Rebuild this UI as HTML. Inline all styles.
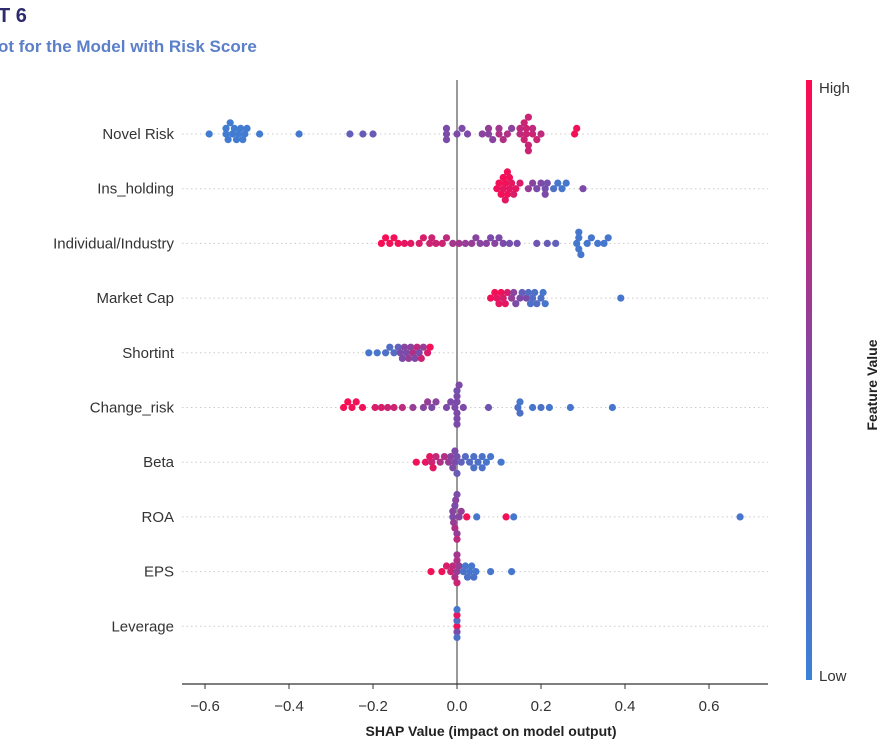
<!DOCTYPE html>
<html><head><meta charset="utf-8"><style>
body{margin:0;background:#fff;width:885px;height:741px;overflow:hidden;font-family:"Liberation Sans",sans-serif}
</style></head><body>
<svg id="chart" width="885" height="741" xmlns="http://www.w3.org/2000/svg" style="position:absolute;left:0;top:0">
<defs><linearGradient id="cb" x1="0" y1="1" x2="0" y2="0">
<stop offset="0" stop-color="#3a82d6"/><stop offset="0.5" stop-color="#7c4aa8"/><stop offset="1" stop-color="#ff0a50"/></linearGradient></defs>
<text x="-2" y="22" font-size="20" font-weight="bold" fill="#2e2a6e">T 6</text>
<text x="-2" y="52" font-size="17" font-weight="bold" fill="#5b7fc8">ot for the Model with Risk Score</text>
<g id="grid"></g><g id="labels"></g>
<line x1="457" y1="80" x2="457" y2="684" stroke="#999" stroke-width="2"/>
<g id="dots"></g>
<line x1="182" y1="684" x2="768" y2="684" stroke="#333" stroke-width="1.2"/>
<g id="ticks"></g>
<text x="491" y="736" font-size="14" font-weight="bold" fill="#222" text-anchor="middle">SHAP Value (impact on model output)</text>
<rect x="806" y="80" width="6" height="600" fill="url(#cb)"/>
<text x="819" y="93" font-size="15" fill="#333">High</text>
<text x="819" y="681" font-size="15" fill="#333">Low</text>
<text transform="translate(877,385) rotate(-90)" font-size="14" font-weight="bold" fill="#222" text-anchor="middle">Feature Value</text>
</svg>
<script>
const features=["Novel Risk","Ins_holding","Individual/Industry","Market Cap","Shortint","Change_risk","Beta","ROA","EPS","Leverage"];
const xTicks=[-0.6,-0.4,-0.2,0.0,0.2,0.4,0.6];
const novelRisk=[[-0.59,0.05],[-0.55,0.05],[-0.55,0.05],[-0.545,0.05],[-0.54,0.05],[-0.535,0.05],[-0.53,0.05],[-0.525,0.05],[-0.52,0.05],[-0.515,0.05],[-0.51,0.05],[-0.505,0.05],[-0.5,0.05],[-0.47,0.05],[-0.376,0.08],[-0.255,0.3],[-0.224,0.35],[-0.2,0.35],[-0.025,0.5],[-0.025,0.5],[-0.025,0.5],[0.0,0.5],[0.012,0.5],[0.025,0.5],[0.06,0.55],[0.075,0.55],[0.075,0.6],[0.085,0.55],[0.1,0.7],[0.1,0.65],[0.11,0.7],[0.12,0.7],[0.13,0.55],[0.15,0.75],[0.15,0.75],[0.16,0.8],[0.16,0.8],[0.165,0.8],[0.165,0.8],[0.17,0.8],[0.17,0.8],[0.17,0.8],[0.18,0.8],[0.18,0.75],[0.19,0.8],[0.2,0.75],[0.28,0.95],[0.285,0.95]];
const insHolding=[[0.095,0.95],[0.1,0.95],[0.105,0.95],[0.11,0.9],[0.11,0.95],[0.115,0.95],[0.115,0.9],[0.12,0.95],[0.12,0.95],[0.125,0.9],[0.125,0.95],[0.13,0.9],[0.135,0.85],[0.14,0.9],[0.15,0.85],[0.17,0.6],[0.18,0.55],[0.19,0.5],[0.2,0.5],[0.21,0.45],[0.21,0.5],[0.215,0.45],[0.23,0.15],[0.24,0.1],[0.25,0.1],[0.26,0.1],[0.3,0.5]];
const individualIndustry=[[-0.18,0.97],[-0.17,0.97],[-0.16,0.95],[-0.15,0.95],[-0.14,0.95],[-0.125,0.9],[-0.11,0.9],[-0.09,0.85],[-0.08,0.85],[-0.065,0.8],[-0.06,0.8],[-0.05,0.8],[-0.035,0.8],[-0.025,0.75],[-0.01,0.65],[0.005,0.65],[0.02,0.6],[0.035,0.6],[0.045,0.55],[0.055,0.55],[0.07,0.55],[0.08,0.5],[0.09,0.55],[0.1,0.5],[0.11,0.5],[0.125,0.45],[0.143,0.45],[0.19,0.4],[0.215,0.35],[0.235,0.3],[0.285,0.1],[0.29,0.1],[0.29,0.1],[0.29,0.1],[0.295,0.1],[0.31,0.1],[0.32,0.1],[0.335,0.1],[0.35,0.1],[0.36,0.1]];
const marketCap=[[0.08,0.95],[0.09,0.95],[0.095,0.9],[0.1,0.9],[0.105,0.95],[0.11,0.85],[0.115,0.9],[0.12,0.85],[0.13,0.6],[0.135,0.55],[0.14,0.5],[0.15,0.5],[0.155,0.3],[0.165,0.5],[0.17,0.2],[0.175,0.15],[0.18,0.2],[0.185,0.15],[0.19,0.2],[0.2,0.15],[0.205,0.1],[0.21,0.1],[0.39,0.1]];
const shortint=[[-0.21,0.1],[-0.19,0.1],[-0.17,0.15],[-0.16,0.2],[-0.15,0.2],[-0.14,0.3],[-0.135,0.5],[-0.13,0.5],[-0.125,0.55],[-0.12,0.5],[-0.115,0.6],[-0.11,0.55],[-0.105,0.7],[-0.1,0.5],[-0.095,0.75],[-0.09,0.5],[-0.085,0.8],[-0.08,0.6],[-0.07,0.85],[-0.064,0.95]];
const changeRisk=[[-0.27,0.97],[-0.26,0.97],[-0.25,0.95],[-0.24,0.95],[-0.225,0.95],[-0.195,0.85],[-0.18,0.85],[-0.165,0.8],[-0.15,0.8],[-0.13,0.75],[-0.105,0.6],[-0.08,0.55],[-0.07,0.6],[-0.06,0.5],[-0.05,0.55],[-0.025,0.5],[-0.015,0.5],[-0.005,0.5],[0.0,0.5],[0.0,0.5],[0.0,0.5],[0.0,0.5],[0.0,0.45],[0.0,0.5],[0.005,0.5],[0.015,0.5],[0.075,0.4],[0.145,0.15],[0.15,0.1],[0.15,0.15],[0.18,0.1],[0.2,0.15],[0.22,0.1],[0.27,0.1],[0.37,0.1]];
const beta=[[-0.097,0.95],[-0.075,0.9],[-0.065,0.9],[-0.06,0.8],[-0.057,0.9],[-0.05,0.75],[-0.04,0.7],[-0.03,0.7],[-0.02,0.6],[-0.015,0.55],[-0.01,0.5],[-0.005,0.5],[0.0,0.45],[0.0,0.35],[0.01,0.3],[0.02,0.2],[0.03,0.2],[0.04,0.15],[0.05,0.15],[0.06,0.15],[0.07,0.1],[0.08,0.1],[0.105,0.1],[0.04,0.15],[0.06,0.15],[-0.005,0.5]];
const roa=[[-0.01,0.5],[-0.01,0.55],[-0.008,0.6],[-0.005,0.5],[-0.005,0.7],[-0.003,0.55],[0.0,0.6],[0.0,0.5],[0.0,0.75],[0.005,0.55],[0.01,0.6],[0.023,0.95],[0.047,0.1],[0.117,0.95],[0.135,0.1],[0.674,0.1]];
const eps=[[-0.062,0.95],[-0.036,0.95],[-0.025,0.85],[-0.015,0.8],[-0.01,0.75],[-0.005,0.7],[0.0,0.6],[0.0,0.7],[0.0,0.8],[0.0,0.65],[0.005,0.6],[0.015,0.15],[0.02,0.1],[0.025,0.15],[0.03,0.1],[0.035,0.1],[0.04,0.15],[0.045,0.1],[0.08,0.1],[0.13,0.1]];
const leverage=[[0.0,0.95],[0.0,0.2],[0.0,0.5],[0.0,0.9],[0.0,0.15],[0.0,0.1]];
const series=[novelRisk,insHolding,individualIndustry,marketCap,shortint,changeRisk,beta,roa,eps,leverage];

const NS="http://www.w3.org/2000/svg";
const x0=457,xs=420,rowY=i=>134+i*54.7;
const xPos=v=>x0+v*xs;
function mix(a,b,t){return a.map((c,i)=>Math.round(c+(b[i]-c)*t));}
function color(f){const B=[58,130,214],P=[124,74,168],R=[255,10,80];
 const c=f<0.5?mix(B,P,f*2):mix(P,R,(f-0.5)*2);return `rgb(${c[0]},${c[1]},${c[2]})`;}
const grid=document.getElementById('grid'),labels=document.getElementById('labels'),dots=document.getElementById('dots'),ticks=document.getElementById('ticks');
features.forEach((name,i)=>{
 const y=rowY(i);
 const l=document.createElementNS(NS,'line');
 
 
 l.setAttribute('x1',182);l.setAttribute('x2',768);l.setAttribute('y1',y);l.setAttribute('y2',y);
 l.setAttribute('stroke','#ccc');l.setAttribute('stroke-dasharray','1.5,3');grid.appendChild(l);
 const t=document.createElementNS(NS,'text');
 
 
 t.setAttribute('x',174);t.setAttribute('y',y+5);t.setAttribute('text-anchor','end');t.setAttribute('font-size','15');t.setAttribute('fill','#333');
 t.textContent=name;labels.appendChild(t);
 const pts=series[i].map(p=>({x:xPos(p[0]),f:p[1]})).sort((a,b)=>a.x-b.x);
 const placed=[];const d=6.2,dy=5.6;
 pts.forEach(p=>{
  for(let k=0;k<40;k++){
   const off=(k%2? -1:1)*Math.ceil(k/2);
   const ok=placed.every(q=>q.o!==off||Math.abs(q.x-p.x)>=d);
   if(ok){p.o=off;placed.push(p);break;}
  }
 });
 placed.forEach(p=>{
  const c=document.createElementNS(NS,'circle');
  
  
  c.setAttribute('cx',p.x.toFixed(1));c.setAttribute('cy',(y+p.o*dy).toFixed(1));c.setAttribute('r',3.6);
  c.setAttribute('fill',color(p.f));dots.appendChild(c);
 });
});
xTicks.forEach(v=>{
 const x=xPos(v);
 const l=document.createElementNS(NS,'line');
 
 
 l.setAttribute('x1',x);l.setAttribute('x2',x);l.setAttribute('y1',684);l.setAttribute('y2',689);l.setAttribute('stroke','#333');ticks.appendChild(l);
 const t=document.createElementNS(NS,'text');
 
 
 t.setAttribute('x',x);t.setAttribute('y',711);t.setAttribute('text-anchor','middle');t.setAttribute('font-size','15');t.setAttribute('fill','#333');
 t.textContent=(v<0?'\u2212':'')+Math.abs(v).toFixed(1);ticks.appendChild(t);
});
</script>
</body></html>
